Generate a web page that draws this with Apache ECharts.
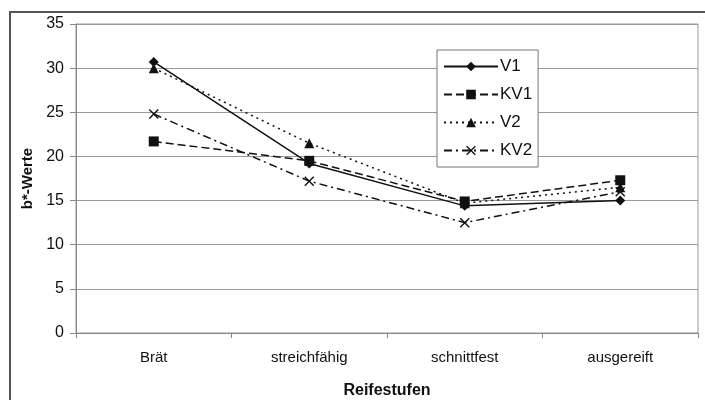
<!DOCTYPE html>
<html>
<head>
<meta charset="utf-8">
<script src="https://cdn.jsdelivr.net/npm/echarts@6/dist/echarts.min.js"></script>
<style>
  html, body { margin: 0; padding: 0; background: #fff; }
  #chart { width: 705px; height: 400px; }
</style>
</head>
<body>
<div id="chart"></div>
<script>
// Reifestufen (x-Achse)
var stufen = ['Brät', 'streichfähig', 'schnittfest', 'ausgereift'];
// b*-Werte je Variante
var v1 = [30.7, 19.2, 14.4, 15.0];
var kv1 = [21.7, 19.5, 14.9, 17.3];
var v2 = [30.0, 21.5, 14.7, 16.5];
var kv2 = [24.8, 17.2, 12.5, 16.0];

var crossPath = 'path://M0,1L1,0L5,4L9,0L10,1L6,5L10,9L9,10L5,6L1,10L0,9L4,5Z';
var schrift = 'Liberation Sans, Arial, sans-serif';

function serie(name, data, symbol, size, type) {
    return {
        name: name,
        type: 'line',
        data: data,
        symbol: symbol,
        symbolSize: size,
        showAllSymbol: true,
        itemStyle: { color: '#111' },
        lineStyle: { color: '#111', width: 1.5, type: type },
        z: 3
    };
}

var chart = echarts.init(document.getElementById('chart'));
var option = {
    animation: false,
    backgroundColor: '#fff',
    graphic: [{
        type: 'rect',
        shape: { x: 10, y: 12, width: 710, height: 400 },
        style: { fill: 'none', stroke: '#555', lineWidth: 2 },
        z: -1
    }],
    grid: {
        left: 76, right: 7, top: 24, bottom: 67,
        outerBoundsMode: 'none',
        containLabel: false,
        show: true, borderColor: '#999', borderWidth: 1
    },
    legend: {
        left: 437, top: 50,
        orient: 'vertical',
        width: 102,
        padding: [8, 6, 8, 6],
        itemGap: 11,
        itemWidth: 54,
        itemHeight: 12,
        backgroundColor: '#fff',
        borderColor: '#777',
        borderWidth: 1,
        textStyle: { fontFamily: schrift, fontSize: 17, color: '#111', padding: [0, 0, 0, -3] },
        data: ['V1', 'KV1', 'V2', 'KV2']
    },
    xAxis: {
        type: 'category',
        data: stufen,
        boundaryGap: true,
        name: 'Reifestufen',
        nameLocation: 'middle',
        nameGap: 50,
        nameTextStyle: { fontFamily: schrift, fontSize: 16, fontWeight: 'bold', color: '#111' },
        axisLine: { lineStyle: { color: '#888' } },
        axisTick: { show: true, length: 5, lineStyle: { color: '#888' } },
        axisLabel: { fontFamily: schrift, fontSize: 15, color: '#111', margin: 17 },
        splitLine: { show: false }
    },
    yAxis: {
        type: 'value',
        min: 0, max: 35, interval: 5,
        name: 'b*-Werte',
        nameLocation: 'middle',
        nameGap: 40,
        nameTextStyle: { fontFamily: schrift, fontSize: 15, fontWeight: 'bold', color: '#111' },
        axisLine: { show: true, lineStyle: { color: '#888' } },
        axisTick: { show: true, length: 6, lineStyle: { color: '#888' } },
        axisLabel: { fontFamily: schrift, fontSize: 16, color: '#111', margin: 12 },
        splitLine: { lineStyle: { color: '#999', width: 1 } }
    },
    series: [
        serie('V1', v1, 'diamond', 10, 'solid'),
        serie('KV1', kv1, 'rect', 10, [8, 4]),
        serie('V2', v2, 'triangle', 10, [2, 4]),
        serie('KV2', kv2, crossPath, 10, [8, 4, 2, 4])
    ]
};
chart.setOption(option);
</script>
</body>
</html>
